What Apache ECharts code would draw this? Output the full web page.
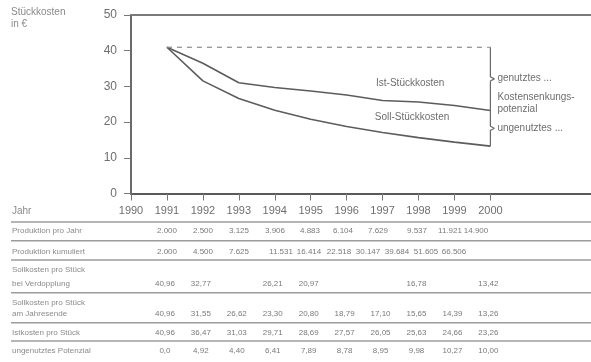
<!DOCTYPE html>
<html>
<head>
<meta charset="utf-8">
<script src="https://cdn.jsdelivr.net/npm/echarts@6/dist/echarts.min.js"></script>
<style>
  html, body { margin: 0; padding: 0; background: #fff; }
  #chart { width: 591px; height: 362px; }
</style>
</head>
<body>
<div id="chart"></div>
<script>
// Axis ticks
const axisYears = [1990, 1991, 1992, 1993, 1994, 1995, 1996, 1997, 1998, 1999, 2000];
const yTicks = [0, 10, 20, 30, 40, 50];

// Table columns / series categories
const years = [1991, 1992, 1993, 1994, 1995, 1996, 1997, 1998, 1999, 2000];

// Production figures
const prodPerYear = [2000, 2500, 3125, 3906, 4883, 6104, 7629, 9537, 11921, 14900];
const prodCumulative = [2000, 4500, 7625, 11531, 16414, 22518, 30147, 39684, 51605, 66506];

// Unit costs in EUR
const targetAtDoubling = [40.96, 32.77, null, 26.21, 20.97, null, null, 16.78, null, 13.42];
const targetYearEnd = [40.96, 31.55, 26.62, 23.30, 20.80, 18.79, 17.10, 15.65, 14.39, 13.26];
const actualCost = [40.96, 36.47, 31.03, 29.71, 28.69, 27.57, 26.05, 25.63, 24.66, 23.26];
const unusedPotential = [0.0, 4.92, 4.40, 6.41, 7.89, 8.78, 8.95, 9.98, 10.27, 10.00];

const FONT = '"Liberation Sans", Arial, sans-serif';
const TEXT = '#6e6e6e';
const LIGHT = '#8a8a8a';
const LINE = '#5c5c5c';

const fmtInt = v => String(v).replace(/\B(?=(\d{3})+(?!\d))/g, '.');
const fmtDec = v => (v === 0 ? '0,0' : v.toFixed(2).replace('.', ','));

const firstYear = years[0], lastYear = years[years.length - 1];
const startCost = targetYearEnd[0];
const actualEnd = actualCost[actualCost.length - 1];
const targetEnd = targetYearEnd[targetYearEnd.length - 1];
const tipUsed = (startCost + actualEnd) / 2;
const tipUnused = (actualEnd + targetEnd) / 2;
const tipW = 0.11, tipH = 0.6;

const chart = echarts.init(document.getElementById('chart'), null, { renderer: 'canvas' });

const option = {
  animation: false,
  backgroundColor: '#fff',
  textStyle: { fontFamily: FONT },
  grid: { left: 131, right: 0, top: 15, bottom: 168.5, containLabel: false },
  xAxis: [
    {
      type: 'value', min: 1990, max: 2002.8, interval: 1, position: 'bottom',
      axisLine: { show: true, onZero: false, lineStyle: { color: '#5a5a5a', width: 2 } },
      axisTick: { show: true, customValues: axisYears, length: 7, lineStyle: { color: '#777', width: 1 } },
      axisLabel: {
        customValues: axisYears, margin: 12, color: TEXT, fontSize: 11, fontFamily: FONT,
        formatter: v => String(v)
      },
      splitLine: { show: false }
    },
    {
      type: 'value', min: 1990, max: 2002.8, position: 'top',
      axisLine: { show: true, onZero: false, lineStyle: { color: '#7a7a7a', width: 2 } },
      axisTick: { show: false }, axisLabel: { show: false }, splitLine: { show: false }
    }
  ],
  yAxis: {
    type: 'value', min: 0, max: 50, interval: 10,
    axisLine: { show: true, lineStyle: { color: '#6a6a6a', width: 2 } },
    axisTick: { show: true, length: 7, lineStyle: { color: '#777' } },
    axisLabel: { color: TEXT, fontSize: 12, margin: 14, fontFamily: FONT },
    splitLine: { show: false }
  },
  series: [
    {
      name: 'Ist-Stückkosten', type: 'line', symbol: 'none',
      data: years.map((y, i) => [y, actualCost[i]]),
      lineStyle: { color: LINE, width: 1.6 }
    },
    {
      name: 'Soll-Stückkosten', type: 'line', symbol: 'none',
      data: years.map((y, i) => [y, targetYearEnd[i]]),
      lineStyle: { color: LINE, width: 1.6 }
    },
    {
      name: 'Ausgangsniveau', type: 'line', symbol: 'none',
      data: [[firstYear, startCost], [lastYear, startCost]],
      lineStyle: { color: '#8c8c8c', width: 1.2, type: [5, 5] }
    },
    {
      name: 'Klammer', type: 'line', symbol: 'none',
      data: [
        [lastYear, startCost],
        [lastYear, tipUsed + tipH], [lastYear + tipW, tipUsed], [lastYear, tipUsed - tipH],
        [lastYear, tipUnused + tipH], [lastYear + tipW, tipUnused], [lastYear, tipUnused - tipH],
        [lastYear, targetEnd]
      ],
      lineStyle: { color: '#6a6a6a', width: 1.2 }
    }
  ]
};

chart.setOption(option);

const px = (x, y) => chart.convertToPixel({ xAxisIndex: 0, yAxisIndex: 0 }, [x, y]);

const g = [];
function text(x, y, str, opts) {
  g.push({
    type: 'text', x, y, silent: true,
    style: Object.assign({
      text: str, fill: TEXT, font: '10px ' + FONT,
      textAlign: 'left', textVerticalAlign: 'middle'
    }, opts || {})
  });
}
function hline(y) {
  g.push({
    type: 'line', silent: true,
    shape: { x1: 11, y1: y, x2: 591, y2: y },
    style: { stroke: '#9c9c9c', lineWidth: 1.4 }
  });
}

// Axis title
text(11, 12, 'Stückkosten', { fill: LIGHT, font: '10px ' + FONT });
text(11, 24, 'in €', { fill: LIGHT, font: '10px ' + FONT });

// Curve names
const pIst = px(1997.77, 31.0);
text(pIst[0], pIst[1], 'Ist-Stückkosten', { textAlign: 'center', fill: TEXT });
const pSoll = px(1997.82, 21.3);
text(pSoll[0], pSoll[1], 'Soll-Stückkosten', { textAlign: 'center', fill: TEXT });

// Bracket notes
const pUsed = px(lastYear, tipUsed);
const pUnused = px(lastYear, tipUnused);
const noteX = pUsed[0] + 7;
text(noteX, pUsed[1] - 1, 'genutztes ...');
const midY = (pUsed[1] + pUnused[1]) / 2;
text(noteX, midY - 6, 'Kostensenkungs-');
text(noteX, midY + 5.5, 'potenzial');
text(noteX, pUnused[1], 'ungenutztes ...');

// Table
const rowFont = '8px ' + FONT;
const valFont = '8px ' + FONT;
text(12, 211, 'Jahr', { fill: LIGHT, font: '10px ' + FONT });
[222, 240.7, 260, 292.7, 322.7, 341].forEach(hline);

const prodColX = [167, 203, 239, 275, 310, 343, 378, 417, 450, 476];
const cumColX = [167, 203, 239, 281, 309, 339, 368, 397, 426, 454];
const alignedColX = years.map(y => px(y, 0)[0] - 2);

const rows = [
  { labels: [['Produktion pro Jahr', 231]], y: 231, values: prodPerYear, fmt: fmtInt, cols: prodColX },
  { labels: [['Produktion kumuliert', 251.5]], y: 251.5, values: prodCumulative, fmt: fmtInt, cols: cumColX },
  { labels: [['Sollkosten pro Stück', 270], ['bei Verdopplung', 284]], y: 284, values: targetAtDoubling, fmt: fmtDec, cols: alignedColX },
  { labels: [['Sollkosten pro Stück', 303], ['am Jahresende', 313.5]], y: 313.5, values: targetYearEnd, fmt: fmtDec, cols: alignedColX },
  { labels: [['Istkosten pro Stück', 332.3]], y: 332.3, values: actualCost, fmt: fmtDec, cols: alignedColX },
  { labels: [['ungenutztes Potenzial', 350.7]], y: 350.7, values: unusedPotential, fmt: fmtDec, cols: alignedColX }
];

rows.forEach(r => {
  r.labels.forEach(([s, y]) => text(12, y, s, { fill: LIGHT, font: rowFont }));
  r.values.forEach((v, i) => {
    if (v === null) return;
    text(r.cols[i], r.y, r.fmt(v), { textAlign: 'center', fill: '#7a7a7a', font: valFont });
  });
});

chart.setOption({ graphic: { elements: g } });
</script>
</body>
</html>
